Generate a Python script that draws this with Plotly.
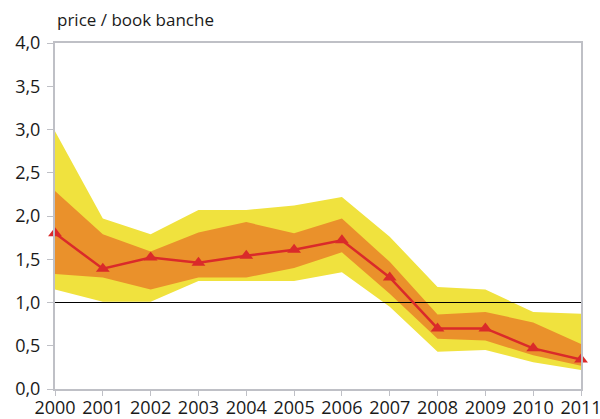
import plotly.graph_objects as go

years = [2000, 2001, 2002, 2003, 2004, 2005, 2006, 2007, 2008, 2009, 2010, 2011]
median = [1.80, 1.39, 1.52, 1.46, 1.54, 1.61, 1.72, 1.29, 0.70, 0.70, 0.47, 0.34]
outer_high = [2.98, 1.97, 1.79, 2.07, 2.07, 2.12, 2.22, 1.76, 1.18, 1.15, 0.89, 0.87]
inner_high = [2.29, 1.79, 1.59, 1.81, 1.93, 1.80, 1.97, 1.47, 0.86, 0.89, 0.77, 0.52]
inner_low = [1.33, 1.29, 1.15, 1.29, 1.29, 1.40, 1.58, 1.10, 0.58, 0.56, 0.39, 0.27]
outer_low = [1.15, 1.01, 1.01, 1.25, 1.25, 1.25, 1.35, 0.95, 0.43, 0.45, 0.31, 0.22]
ref_level = 1.0
y_ticks = [0, 0.5, 1.0, 1.5, 2.0, 2.5, 3.0, 3.5, 4.0]
y_tick_text = ["0,0", "0,5", "1,0", "1,5", "2,0", "2,5", "3,0", "3,5", "4,0"]

YELLOW = "#F0E23E"
ORANGE = "#EA912B"
RED = "#DA2A2A"
GRAY = "#BFC0C6"

fig = go.Figure()
fig.add_trace(go.Scatter(x=years, y=outer_low, mode="lines", line=dict(width=0), showlegend=False, hoverinfo="skip"))
fig.add_trace(go.Scatter(x=years, y=outer_high, mode="lines", line=dict(width=0), fill="tonexty", fillcolor=YELLOW, showlegend=False))
fig.add_trace(go.Scatter(x=years, y=inner_low, mode="lines", line=dict(width=0), showlegend=False, hoverinfo="skip"))
fig.add_trace(go.Scatter(x=years, y=inner_high, mode="lines", line=dict(width=0), fill="tonexty", fillcolor=ORANGE, showlegend=False))
fig.add_trace(go.Scatter(x=[years[0], years[-1]], y=[ref_level, ref_level], mode="lines", line=dict(color="black", width=1.2), showlegend=False, hoverinfo="skip"))
fig.add_trace(go.Scatter(x=years, y=median, mode="lines+markers", line=dict(color=RED, width=2.5),
                         marker=dict(symbol="triangle-up", size=12, color=RED), showlegend=False, cliponaxis=False))

fig.update_layout(
    width=600, height=419,
    margin=dict(l=55, r=19, t=43, b=30),
    paper_bgcolor="white", plot_bgcolor="white",
    font=dict(family="Open Sans", size=16, color="#1a1a1a"),
    annotations=[dict(text="price / book banche", xref="paper", yref="paper", x=0, y=1, xanchor="left", yanchor="bottom",
                      yshift=10, showarrow=False, font=dict(size=17, family="Open Sans", color="#1a1a1a"))],
)
fig.update_xaxes(range=[years[0], years[-1]], tickvals=years, ticktext=[str(y) for y in years], automargin=False,
                 ticklabeloverflow="allow", ticklabelstandoff=-4,
                 showgrid=False, zeroline=False, showline=True, linecolor=GRAY, linewidth=2, mirror=True,
                 ticks="outside", ticklen=5, tickcolor=GRAY, tickwidth=1, tickfont=dict(size=18))
fig.update_yaxes(range=[0, 4], tickvals=y_ticks, ticktext=y_tick_text, automargin=False,
                 ticklabeloverflow="allow", ticklabelstandoff=3,
                 showgrid=False, zeroline=False, showline=True, linecolor=GRAY, linewidth=2, mirror=True,
                 ticks="outside", ticklen=6, tickcolor=GRAY, tickwidth=1, tickfont=dict(size=18))

fig.write_html("out.html", config={"displayModeBar": False})

with open("out.html", "r", encoding="utf-8") as f:
    html = f.read()
html = html.replace("<body>", '<body style="margin:0;padding:0;overflow:hidden">', 1)
with open("out.html", "w", encoding="utf-8") as f:
    f.write(html)
